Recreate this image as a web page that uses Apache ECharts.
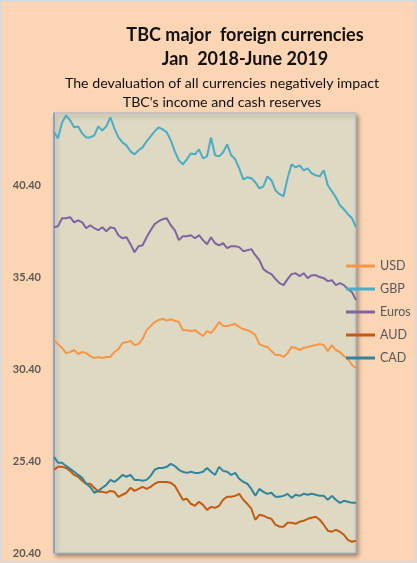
<!DOCTYPE html>
<html>
<head>
<meta charset="utf-8">
<script src="https://cdn.jsdelivr.net/npm/echarts@6/dist/echarts.min.js"></script>
<style>
html,body{margin:0;padding:0;background:#FCD5B4;}
#chart{width:417px;height:563px;}
</style>
</head>
<body>
<div id="chart"></div>
<script>
// Approximate weekly readings, Jan 2018 - June 2019
const seriesNames = ['USD', 'GBP', 'Euros', 'AUD', 'CAD'];
const yTickValues = [20.4, 25.4, 30.4, 35.4, 40.4];

const usd = [31.99,31.77,31.56,31.28,31.34,31.45,31.23,31.34,31.28,31.12,31.01,31.07,31.01,31.07,31.07,31.34,31.50,31.83,31.88,31.94,31.72,31.77,32.05,32.53,32.75,32.97,33.08,33.15,33.05,33.12,33.04,32.97,32.53,32.53,32.48,32.53,32.37,32.21,32.48,32.37,32.64,32.97,32.75,32.75,32.81,32.86,32.70,32.59,32.53,32.43,32.26,31.77,31.67,31.61,31.39,31.18,31.18,31.07,31.28,31.61,31.56,31.45,31.56,31.61,31.67,31.72,31.77,31.72,31.39,31.72,31.45,31.34,31.12,30.96,30.63,30.47];

const gbp = [43.30,42.97,43.84,44.22,43.95,43.57,43.62,43.24,43.02,43.02,43.13,43.62,43.40,43.62,44.11,43.51,43.02,42.75,42.59,42.26,42.10,42.32,42.48,42.81,43.08,43.35,43.57,43.46,43.30,42.86,42.26,41.77,41.56,41.83,42.15,42.10,42.37,41.88,41.99,43.02,42.05,41.99,42.21,42.64,42.05,41.83,41.34,40.74,40.85,40.80,40.58,40.25,40.36,40.90,40.69,40.14,39.93,39.82,40.80,41.56,41.39,41.50,41.23,41.34,41.07,40.96,40.90,41.23,40.42,40.09,39.76,39.33,39.11,38.84,38.62,38.13];

const euros = [38.13,38.19,38.62,38.62,38.68,38.40,38.51,38.40,38.08,38.24,38.08,37.97,38.13,37.91,38.13,38.08,37.70,37.53,37.59,37.21,36.77,37.10,37.15,37.59,37.97,38.30,38.46,38.57,38.62,38.24,37.97,37.43,37.64,37.64,37.70,37.53,37.70,37.43,37.21,37.59,37.26,37.15,37.26,36.99,37.10,37.10,37.05,36.83,36.88,36.94,36.61,36.34,35.85,35.69,35.58,35.31,35.09,34.98,35.31,35.58,35.63,35.47,35.63,35.36,35.52,35.52,35.42,35.36,35.20,35.25,34.98,35.09,34.98,34.76,34.60,34.17];

const aud = [24.93,25.09,25.09,25.03,24.87,24.65,24.55,24.33,24.17,24.17,23.95,23.73,23.73,23.68,23.78,23.73,23.46,23.57,23.68,23.95,23.78,23.89,24.00,23.89,24.00,24.17,24.27,24.27,24.27,24.22,24.06,23.68,23.30,23.35,23.08,22.97,23.19,23.02,22.75,22.91,22.86,22.97,23.30,23.46,23.46,23.51,23.62,23.30,23.08,22.81,22.21,22.48,22.43,22.32,22.26,21.94,21.83,21.83,22.05,22.05,21.99,22.10,22.15,22.26,22.32,22.37,22.21,21.94,21.61,21.56,21.66,21.56,21.39,21.12,21.01,21.07];

const cad = [25.63,25.31,25.31,25.14,24.98,24.82,24.65,24.49,24.17,24.00,23.68,23.78,23.95,24.11,24.38,24.27,24.44,24.65,24.55,24.65,24.38,24.38,24.33,24.38,24.60,24.93,25.03,25.03,25.09,25.25,25.14,24.93,24.82,24.76,24.82,24.76,24.76,24.82,25.03,24.82,24.65,25.09,24.87,24.82,24.65,24.76,24.44,24.27,24.17,23.89,23.51,23.89,23.73,23.62,23.68,23.46,23.46,23.51,23.62,23.40,23.57,23.51,23.62,23.57,23.62,23.57,23.51,23.51,23.30,23.51,23.30,23.13,23.24,23.19,23.13,23.13];

// Category labels: weekly dates from Jan 2018
const categories = [];
{
  const d0 = new Date(2018, 0, 2);
  for (let i = 0; i < usd.length; i++) {
    const d = new Date(d0.getTime() + i * 7 * 86400000);
    categories.push(d.getFullYear() + '-' + (d.getMonth() + 1) + '-' + d.getDate());
  }
}

const colors = ['#F79646', '#4BACC6', '#8064A2', '#C55A11', '#31849B'];
const dataSets = [usd, gbp, euros, aud, cad];

const chart = echarts.init(document.getElementById('chart'));
const font = 'Lato, "Open Sans", sans-serif';
chart.setOption({
  backgroundColor: '#FCD5B4',
  animation: false,
  title: [
    { text: 'TBC major  foreign currencies', left: 240, top: 21, textAlign: 'center',
      textStyle: { fontFamily: font, fontWeight: 'bold', fontSize: 18, color: '#111' } },
    { text: 'Jan  2018-June 2019', left: 240, top: 45, textAlign: 'center',
      textStyle: { fontFamily: font, fontWeight: 'bold', fontSize: 18, color: '#111' } },
    { text: 'The devaluation of all currencies negatively impact', left: 217, top: 71, textAlign: 'center',
      textStyle: { fontFamily: font, fontWeight: 'normal', fontSize: 14.2, color: '#111' } },
    { text: "TBC's income and cash reserves", left: 217, top: 90, textAlign: 'center',
      textStyle: { fontFamily: font, fontWeight: 'normal', fontSize: 14.2, color: '#111' } }
  ],
  graphic: [{
    type: 'rect', silent: true,
    shape: { x: 1, y: 1, width: 415, height: 561 },
    style: { fill: 'none', stroke: '#D9D9D9', lineWidth: 2 }
  }],
  legend: {
    orient: 'vertical', left: 341, top: 254,
    data: seriesNames,
    icon: 'rect', itemWidth: 29, itemHeight: 3, itemGap: 9,
    textStyle: { fontFamily: font, fontSize: 12.5, color: '#595959', lineHeight: 14 }
  },
  grid: {
    left: 54, right: 61, top: 113, bottom: 10, containLabel: false,
    show: true, backgroundColor: '#DDD9C3', borderColor: '#A6B6CC', borderWidth: 1,
    shadowColor: 'rgba(0,0,0,0.35)', shadowBlur: 4, shadowOffsetX: 2, shadowOffsetY: 3
  },
  xAxis: {
    type: 'category', data: categories, boundaryGap: false,
    axisLine: { show: false }, axisTick: { show: false }, axisLabel: { show: false },
    splitLine: { show: false }
  },
  yAxis: {
    type: 'value', min: 20.4, max: 44.35,
    axisLine: { show: true, lineStyle: { color: '#7A9BD0', width: 1.5 } },
    axisTick: { show: false },
    splitLine: { show: false },
    axisLabel: {
      customValues: yTickValues,
      formatter: v => v.toFixed(2),
      margin: 13,
      fontFamily: font, fontSize: 11, fontWeight: 'bold', color: '#595959'
    }
  },
  series: seriesNames.map((n, i) => ({
    name: n, type: 'line', data: dataSets[i], showSymbol: false, symbol: 'none',
    lineStyle: { color: colors[i], width: 2 }, itemStyle: { color: colors[i] }
  }))
});
</script>
</body>
</html>
